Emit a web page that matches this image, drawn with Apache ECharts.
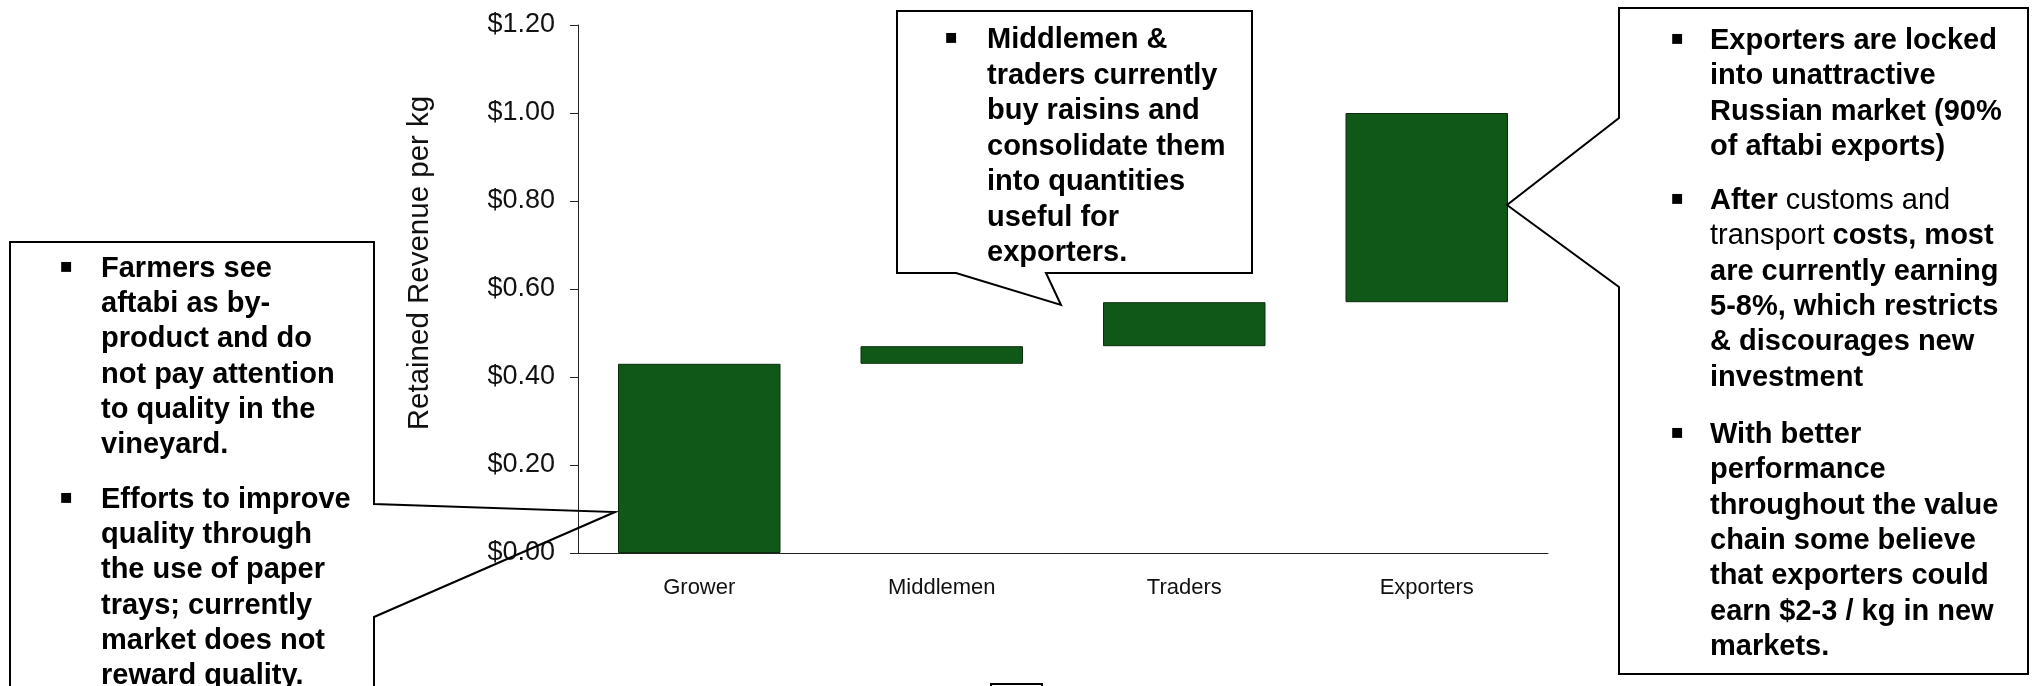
<!DOCTYPE html>
<html>
<head>
<meta charset="utf-8">
<script src="https://cdn.jsdelivr.net/npm/echarts@6/dist/echarts.min.js"></script>
<style>
  html, body { margin: 0; padding: 0; background: #ffffff; }
  #chart { width: 2035px; height: 686px; }
</style>
</head>
<body>
<div id="chart"></div>
<script>
// Value chain stages
const categories = ['Grower', 'Middlemen', 'Traders', 'Exporters'];
// Cumulative revenue per kg before each stage (floating base of the waterfall)
const stageStart = [0, 0.43, 0.47, 0.57];
// Revenue per kg retained by each stage
const retained = [0.43, 0.04, 0.10, 0.43];

const axisTitle = 'Retained Revenue per kg';

// Callout notes: one array of lines per bullet
const growerNotes = [
  ['Farmers see', 'aftabi as by-', 'product and do', 'not pay attention', 'to quality in the', 'vineyard.'],
  ['Efforts to improve', 'quality through', 'the use of paper', 'trays; currently', 'market does not', 'reward quality.']
];
const traderNotes = [
  ['Middlemen &', 'traders currently', 'buy raisins and', 'consolidate them', 'into quantities', 'useful for', 'exporters.']
];
// {n|...} marks the words set in regular weight
const exporterNotes = [
  ['Exporters are locked', 'into unattractive', 'Russian market (90%', 'of aftabi exports)'],
  ['After {n|customs and}', '{n|transport} costs, most', 'are currently earning', '5-8%, which restricts', '& discourages new', 'investment'],
  ['With better', 'performance', 'throughout the value', 'chain some believe', 'that exporters could', 'earn $2-3 / kg in new', 'markets.']
];

const FONT = '"Liberation Sans", Arial, Helvetica, sans-serif';
const NOTE_SIZE = 29;

const chart = echarts.init(document.getElementById('chart'), null, { renderer: 'canvas' });

// Builds the text elements of one callout: bullet + lines, paragraphs start at given y
function noteElements(paragraphs, bulletX, textX, starts, pitch) {
  const els = [];
  paragraphs.forEach((lines, p) => {
    els.push({
      type: 'text', z: 110,
      style: {
        x: bulletX, y: starts[p] - 2, text: '\u25AA',
        fontFamily: '"DejaVu Sans"', fontSize: 20, fill: '#000',
        align: 'center', verticalAlign: 'middle'
      }
    });
    lines.forEach((line, i) => {
      els.push({
        type: 'text', z: 110,
        style: {
          x: textX, y: starts[p] + i * pitch, text: line,
          fontFamily: FONT, fontSize: NOTE_SIZE, fontWeight: 'bold', fill: '#000',
          align: 'left', verticalAlign: 'middle',
          rich: { n: { fontFamily: FONT, fontSize: NOTE_SIZE, fontWeight: 'normal', fill: '#000' } }
        }
      });
    });
  });
  return els;
}

const calloutStyle = { stroke: '#000', lineWidth: 2, fill: 'transparent' };

const graphics = [
  // y axis title
  {
    type: 'text', z: 50, x: 420, y: 263, rotation: Math.PI / 2,
    style: {
      text: axisTitle, fontFamily: FONT, fontSize: 29.5, fill: '#111',
      align: 'center', verticalAlign: 'middle'
    }
  },
  // Grower callout
  {
    type: 'polygon', z: 100,
    shape: { points: [[10, 242], [374, 242], [374, 504], [615, 512], [374, 617], [374, 720], [10, 720]] },
    style: calloutStyle
  },
  // Middlemen / traders callout
  {
    type: 'polygon', z: 100,
    shape: { points: [[897, 11], [1252, 11], [1252, 273], [1046, 273], [1061, 305], [956, 273], [897, 273]] },
    style: calloutStyle
  },
  // Exporters callout
  {
    type: 'polygon', z: 100,
    shape: { points: [[1619, 8], [2028, 8], [2028, 674], [1619, 674], [1619, 287], [1507, 205], [1619, 118]] },
    style: calloutStyle
  },
  // legend box edge at the foot of the page
  {
    type: 'rect', z: 100,
    shape: { x: 991, y: 684, width: 51, height: 30 },
    style: { stroke: '#000', lineWidth: 2, fill: '#fff' }
  }
]
  .concat(noteElements(growerNotes, 66, 101, [269, 500], 35.2))
  .concat(noteElements(traderNotes, 951, 987, [40], 35.5))
  .concat(noteElements(exporterNotes, 1677, 1710, [41, 201, 435], 35.3));

chart.setOption({
  animation: false,
  backgroundColor: '#ffffff',
  grid: {
    left: 578, right: 487, top: 25, bottom: 133,
    containLabel: false, outerBoundsMode: 'none'
  },
  xAxis: {
    type: 'category',
    data: categories,
    axisLine: { show: true, lineStyle: { color: '#222', width: 1 } },
    axisTick: { show: false },
    axisLabel: { margin: 24, fontFamily: FONT, fontSize: 22, color: '#111' },
    splitLine: { show: false }
  },
  yAxis: {
    type: 'value',
    min: 0, max: 1.2, interval: 0.2,
    axisLine: { show: true, lineStyle: { color: '#222', width: 1 } },
    axisTick: { show: true, inside: false, length: 8, lineStyle: { color: '#222', width: 1 } },
    axisLabel: {
      margin: 23, fontFamily: FONT, fontSize: 27, color: '#111',
      formatter: v => '$' + v.toFixed(2)
    },
    splitLine: { show: false }
  },
  series: [
    {
      name: 'base', type: 'bar', stack: 'chain',
      data: stageStart,
      itemStyle: { color: 'transparent', borderColor: 'transparent' },
      barCategoryGap: '33%',
      silent: true
    },
    {
      name: 'Retained revenue', type: 'bar', stack: 'chain',
      data: retained,
      itemStyle: { color: '#0f5817', borderColor: '#0a2e0c', borderWidth: 1 },
      barCategoryGap: '33%'
    }
  ],
  graphic: graphics
});
</script>
</body>
</html>
